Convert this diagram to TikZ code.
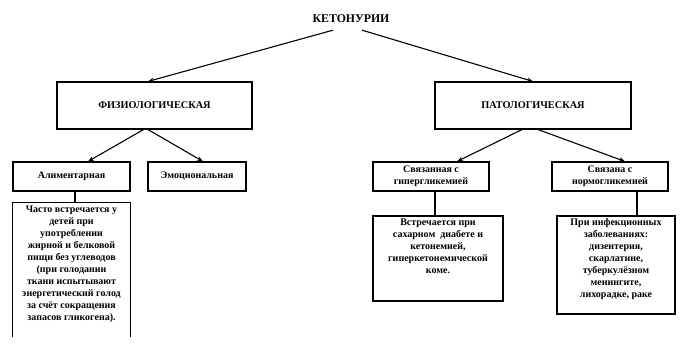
\documentclass[tikz,border=0pt]{standalone}
\usepackage{fontspec}
\setmainfont{Liberation Serif}
\usetikzlibrary{arrows.meta}
\begin{document}
\begin{tikzpicture}[x=1pt,y=-1pt,
  box/.style={draw,line width=1.1pt,inner sep=0pt,align=center,font=\fontsize{10}{12}\selectfont\bfseries},
  txt/.style={inner sep=0pt,align=center,font=\fontsize{10}{12}\selectfont\bfseries},
  arr/.style={line width=1.1pt,-{Stealth[length=6pt,width=4.5pt]}},
  ln/.style={line width=1.1pt}]
\useasboundingbox[fill=white] (0,0) rectangle (700,350);
\node[txt,font=\fontsize{11.8}{13}\selectfont\bfseries] (title) at (351,19) {КЕТОНУРИИ};
\node[box,minimum width=195pt,minimum height=47pt,font=\fontsize{10.3}{12}\selectfont\bfseries] (fiz) at (154.5,105.5) {ФИЗИОЛОГИЧЕСКАЯ};
\node[box,minimum width=196pt,minimum height=47pt,font=\fontsize{10.3}{12}\selectfont\bfseries] (pat) at (533,105.5) {ПАТОЛОГИЧЕСКАЯ};
\node[box,minimum width=117pt,minimum height=29pt] (alim) at (71.5,176.5) {Алиментарная};
\node[box,minimum width=98pt,minimum height=29pt] (emo) at (197,176.5) {Эмоциональная};
\node[box,minimum width=116pt,minimum height=29pt,font=\fontsize{10}{12.5}\selectfont\bfseries] (hyper) at (431,176.5) {Связанная с\\гипергликемией};
\node[box,minimum width=116pt,minimum height=29pt,font=\fontsize{10}{12.5}\selectfont\bfseries] (normo) at (610,176.5) {Связана с\\нормогликемией};
% description boxes
\node[minimum width=117pt,minimum height=134pt,inner sep=0pt] (alimbox) at (71.5,270) {};
\node[txt,anchor=north] (alimtext) at (71.5,206) {Часто встречается у\\детей при\\употреблении\\жирной и белковой\\пищи без углеводов\\(при голодании\\ткани испытывают\\энергетический голод\\за счёт сокращения\\запасов гликогена).};
\draw[ln] (alimbox.south west) -- (alimbox.north west) -- (alimbox.north east) -- (alimbox.south east);
\node[draw,line width=1.1pt,minimum width=130pt,minimum height=85pt,inner sep=0pt] (hypbox) at (438,258.5) {};
\node[txt,anchor=north] (hyptext) at (438,218.5) {Встречается при\\сахарном\ \ диабете и\\кетонемией,\\гиперкетонемической\\коме.};
\node[draw,line width=1.1pt,minimum width=118pt,minimum height=98pt,inner sep=0pt] (normbox) at (616,265) {};
\node[txt,anchor=north] (normtext) at (616,218.5) {При инфекционных\\заболеваниях:\\дизентерия,\\скарлатине,\\туберкулёзном\\менингите,\\лихорадке, раке};
% connectors
\draw[arr] ([xshift=-18pt,yshift=-7pt]title.south) -- ([xshift=-6.5pt]fiz.north);
\draw[arr] ([xshift=11pt,yshift=-7pt]title.south) -- (pat.north);
\draw[arr] ([xshift=-11pt]fiz.south) -- ([xshift=16.5pt]alim.north);
\draw[arr] ([xshift=-6.5pt]fiz.south) -- ([xshift=6pt]emo.north);
\draw[arr] ([xshift=-11pt]pat.south) -- ([xshift=26pt]hyper.north);
\draw[arr] ([xshift=5pt]pat.south) -- ([xshift=15pt]normo.north);
\draw[ln] ([xshift=3.5pt]alim.south) -- ([xshift=3.5pt]alim.south |- alimbox.north);
\draw[ln] ([xshift=4pt]hyper.south) -- ([xshift=4pt]hyper.south |- hypbox.north);
\draw[ln] ([xshift=27pt]normo.south) -- ([xshift=27pt]normo.south |- normbox.north);
\end{tikzpicture}
\end{document}
